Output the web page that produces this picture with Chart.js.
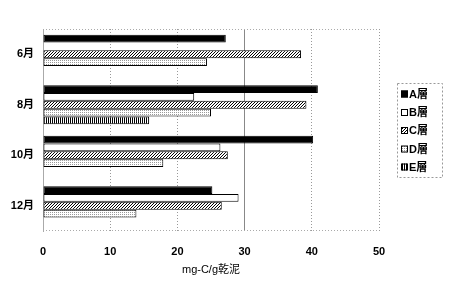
<!DOCTYPE html>
<html><head><meta charset="utf-8">
<script src="https://cdn.jsdelivr.net/npm/chart.js@4"></script>
<style>html,body{margin:0;padding:0;background:#fff}#wrap{width:450px;height:289px}</style>
</head><body><div id="wrap"><canvas id="c"></canvas></div>
<script>
const categories = ['6月', '8月', '10月', '12月'];
const seriesNames = ['A層', 'B層', 'C層', 'D層', 'E層'];
const valuesA = [27.2, 40.9, 40.2, 25.2];
const valuesB = [null, 22.5, 26.4, 29.1];
const valuesC = [38.4, 39.2, 27.5, 26.6];
const valuesD = [24.4, 25.0, 17.9, 13.9];
const valuesE = [null, 15.8, null, null];
const xTicks = [0, 10, 20, 30, 40, 50];
const axisTitle = 'mg-C/g乾泥';

const FONT = "'Liberation Sans', 'Noto Sans CJK JP', sans-serif";

function makePattern(w, h, draw) {
  const cv = document.createElement('canvas');
  cv.width = w; cv.height = h;
  const g = cv.getContext('2d');
  g.fillStyle = '#fff'; g.fillRect(0, 0, w, h);
  draw(g);
  return document.getElementById('c').getContext('2d').createPattern(cv, 'repeat');
}
const hatch = makePattern(3, 3, g => {
  g.fillStyle = '#000';
  g.fillRect(2, 0, 1, 1); g.fillRect(1, 1, 1, 1); g.fillRect(0, 2, 1, 1);
});
const stipple = makePattern(2, 2, g => {
  g.fillStyle = '#999'; g.fillRect(0, 0, 1, 1);
});
const vstripe = makePattern(2, 1, g => {
  g.fillStyle = '#000'; g.fillRect(0, 0, 1, 1);
});

const fills = ['#000', '#fff', hatch, stipple, vstripe];
const seriesValues = [valuesA, valuesB, valuesC, valuesD, valuesE];

const datasets = seriesNames.map((n, i) => ({
  label: n,
  data: seriesValues[i],
  backgroundColor: fills[i],
  borderColor: '#000',
  borderWidth: 1,
  borderSkipped: false,
  barPercentage: 1.0,
  categoryPercentage: 0.77
}));

const framePlugin = {
  id: 'frame',
  beforeDatasetsDraw(chart) {
    const {ctx, chartArea: a} = chart;
    ctx.save();
    ctx.strokeStyle = '#aaa';
    ctx.setLineDash([1, 2]);
    ctx.lineWidth = 1;
    ctx.beginPath();
    ctx.moveTo(a.left, a.top + 0.5); ctx.lineTo(a.right, a.top + 0.5);
    ctx.moveTo(a.left, a.bottom - 0.5); ctx.lineTo(a.right, a.bottom - 0.5);
    ctx.stroke();
    ctx.restore();
  }
};

const legendPlugin = {
  id: 'customLegend',
  afterDraw(chart) {
    const ctx = chart.ctx;
    ctx.save();
    ctx.strokeStyle = '#999';
    ctx.setLineDash([2, 2]);
    ctx.lineWidth = 1;
    ctx.strokeRect(397.5, 83.5, 45, 94);
    ctx.setLineDash([]);
    const ys = [94, 112.5, 130.5, 149, 167];
    ctx.font = 'bold 11px ' + FONT;
    ctx.textBaseline = 'middle';
    chart.data.datasets.forEach((ds, i) => {
      const y = ys[i];
      ctx.fillStyle = ds.backgroundColor;
      ctx.fillRect(401, y - 3.5, 7, 7);
      ctx.strokeStyle = '#000';
      ctx.strokeRect(401.5, y - 3, 6, 6);
      ctx.fillStyle = '#000';
      ctx.fillText(ds.label, 409, y + 0.5);
    });
    ctx.restore();
  }
};

new Chart(document.getElementById('c'), {
  type: 'bar',
  data: { labels: categories, datasets },
  plugins: [framePlugin, legendPlugin],
  options: {
    indexAxis: 'y',
    responsive: true,
    maintainAspectRatio: false,
    animation: false,
    layout: { padding: { top: 29, right: 71, bottom: 0, left: 0 } },
    plugins: { legend: { display: false }, tooltip: { enabled: false } },
    scales: {
      x: {
        min: 0, max: 50,
        afterBuildTicks: s => { s.ticks = xTicks.map(v => ({ value: v })); },
        afterFit: s => { s.height = 58; },
        grid: { color: ctx => (ctx.tick && ctx.tick.value === 30 ? '#888' : '#999'), drawTicks: false, lineWidth: 1 },
        border: { display: false, dash: ctx => (ctx.tick && ctx.tick.value === 30 ? [] : [1, 2]) },
        ticks: { color: '#000', padding: 14, font: { family: FONT, size: 11, weight: 'bold' } },
        title: { display: true, text: axisTitle, color: '#000', padding: { top: 0, bottom: 12 }, font: { family: FONT, size: 11 } }
      },
      y: {
        afterFit: s => { s.width = 43; },
        grid: { display: false, drawTicks: false },
        border: { display: true, color: '#aaa', dash: [1, 2] },
        ticks: { color: '#000', padding: 9, font: { family: FONT, size: 11, weight: 'bold' } }
      }
    }
  }
});
</script></body></html>
